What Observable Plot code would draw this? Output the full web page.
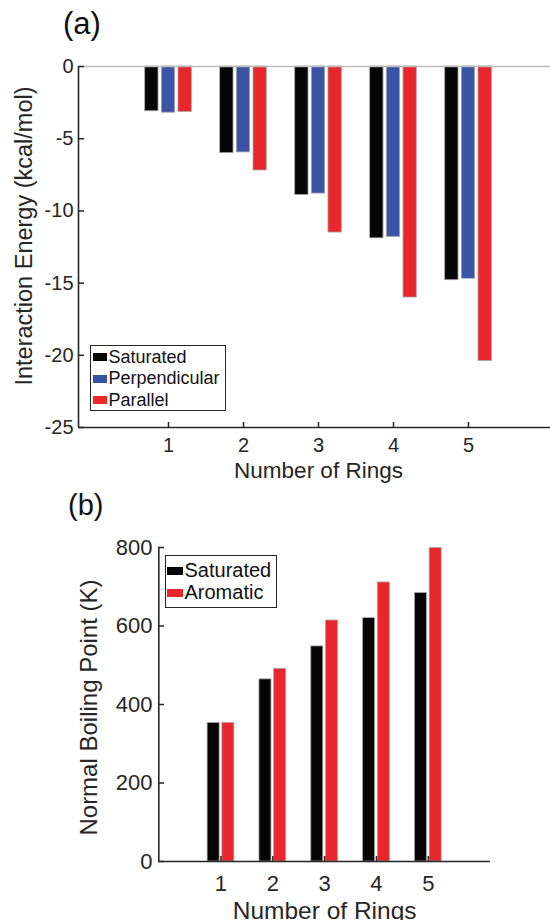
<!DOCTYPE html>
<html><head><meta charset="utf-8">
<script src="https://cdn.jsdelivr.net/npm/d3@7"></script>
<script src="https://cdn.jsdelivr.net/npm/@observablehq/plot@0.6"></script>
<style>
html,body{margin:0;padding:0;background:#fff;overflow:hidden;}
#wrap{position:relative;width:550px;height:920px;overflow:hidden;font-family:"Liberation Sans",Arial,Helvetica,sans-serif;color:#262626;}
.panel{position:absolute;left:0;}
.tag{position:absolute;line-height:1;color:#111;white-space:nowrap;}
.legend{position:absolute;border:1.5px solid #262626;background:#fff;box-sizing:border-box;color:#111;}
.legend .row{display:flex;align-items:center;white-space:nowrap;}
.legend .sw{display:inline-block;flex:none;}
</style></head><body><div id="wrap"></div>
<script>
// ---- data ----
const rings = [1, 2, 3, 4, 5];
const energySeries = ["Saturated", "Perpendicular", "Parallel"];
const energyColors = ["#050505", "#3a54a5", "#e8262b"];
const energySaturated = [-3.1, -6.0, -8.9, -11.9, -14.8];
const energyPerpendicular = [-3.2, -5.95, -8.8, -11.8, -14.7];
const energyParallel = [-3.15, -7.2, -11.5, -16.0, -20.4];
const energyTicks = [0, -5, -10, -15, -20, -25];

const bpSeries = ["Saturated", "Aromatic"];
const bpColors = ["#050505", "#e8262b"];
const bpSaturated = [353, 464, 548, 620, 684];
const bpAromatic = [353, 491, 614, 711, 799];
const bpTicks = [0, 200, 400, 600, 800];

const FONT = '"Liberation Sans", Arial, Helvetica, sans-serif';
const INK = "#262626";
const wrap = document.getElementById("wrap");

// ---- panel (a) ----
const energyRows = [];
[energySaturated, energyPerpendicular, energyParallel].forEach((vals, k) =>
  vals.forEach((v, i) => energyRows.push({ring: rings[i], series: energySeries[k], k, value: v})));
const offA = [-0.222, 0, 0.222], wA = 0.178;

const plotA = Plot.plot({
  width: 550, height: 490,
  marginLeft: 78, marginTop: 66, marginBottom: 63, marginRight: 0,
  x: {type: "linear", domain: [-0.2, 6.2], range: [78, 558]},
  y: {domain: [-25, 0], range: [427, 66]},
  color: {domain: energySeries, range: energyColors},
  style: {fontFamily: FONT, color: INK, background: "transparent"},
  marks: [
    Plot.rectY(energyRows, {
      x1: d => d.ring + offA[d.k] - wA / 2, x2: d => d.ring + offA[d.k] + wA / 2,
      y1: 0, y2: "value", fill: "series", stroke: "#a8a8a8", strokeWidth: 0.8
    }),
    Plot.ruleY([0], {x1: -0.2, x2: 6.2, stroke: "#bcbcbc", strokeWidth: 1.3}),
    Plot.ruleX([-0.2], {y1: -25, y2: 0, stroke: INK, strokeWidth: 1.6}),
    Plot.ruleY([-25], {x1: -0.2, x2: 6.2, stroke: INK, strokeWidth: 1.6}),
    Plot.axisY({ticks: energyTicks, tickSize: -6, tickPadding: 11, tickFormat: d => String(d),
      fontSize: 20, label: null, strokeWidth: 1.5}),
    Plot.axisX({ticks: rings, tickSize: -5, tickPadding: 15, tickFormat: d => String(d),
      fontSize: 20, label: null, strokeWidth: 1.5}),
    Plot.text(["Interaction Energy (kcal/mol)"], {frameAnchor: "left", textAnchor: "middle", lineAnchor: "middle",
      rotate: -90, dx: -54, dy: -11, fontSize: 23.5}),
    Plot.text(["Number of Rings"], {x: () => 3, frameAnchor: "bottom", textAnchor: "middle", lineAnchor: "top", dy: 35, fontSize: 22.5})
  ]
});
plotA.classList.add("panel");
plotA.style.top = "0px";
wrap.appendChild(plotA);

// ---- panel (b) ----
const bpRows = [];
[bpSaturated, bpAromatic].forEach((vals, k) =>
  vals.forEach((v, i) => bpRows.push({ring: rings[i], series: bpSeries[k], k, value: v})));
const offB = [-0.142, 0.142], wB = 0.232;

const plotB = Plot.plot({
  width: 550, height: 430,
  marginLeft: 158, marginTop: 57, marginBottom: 59, marginRight: 60,
  x: {type: "linear", domain: [-0.2, 6.2], range: [158.3, 490]},
  y: {domain: [0, 800], range: [371, 57]},
  color: {domain: bpSeries, range: bpColors},
  style: {fontFamily: FONT, color: INK, background: "transparent"},
  marks: [
    Plot.rectY(bpRows, {
      x1: d => d.ring + offB[d.k] - wB / 2, x2: d => d.ring + offB[d.k] + wB / 2,
      y1: 0, y2: "value", fill: "series", stroke: "#a8a8a8", strokeWidth: 0.8
    }),
    Plot.ruleX([-0.2], {y1: 0, y2: 800, stroke: INK, strokeWidth: 1.6}),
    Plot.ruleY([0], {x1: -0.2, x2: 6.2, stroke: INK, strokeWidth: 1.6}),
    Plot.axisY({ticks: bpTicks, tickSize: -6, tickPadding: 12, tickFormat: d => String(d),
      fontSize: 22, label: null, strokeWidth: 1.5}),
    Plot.axisX({ticks: rings, tickSize: -5, tickPadding: 19, tickFormat: d => String(d),
      fontSize: 22, label: null, strokeWidth: 1.5}),
    Plot.text(["Normal Boiling Point (K)"], {frameAnchor: "left", textAnchor: "middle", lineAnchor: "middle",
      rotate: -90, dx: -69, dy: 3, fontSize: 24}),
    Plot.text(["Number of Rings"], {x: () => 3, frameAnchor: "bottom", textAnchor: "middle", lineAnchor: "top", dy: 40, fontSize: 24.5})
  ]
});
plotB.classList.add("panel");
plotB.style.top = "490px";
wrap.appendChild(plotB);

// ---- panel tags ----
function tag(text, left, baseline, size) {
  const d = document.createElement("div");
  d.className = "tag";
  d.textContent = text;
  d.style.left = left + "px";
  d.style.fontSize = size + "px";
  d.style.top = (baseline - 0.8465 * size) + "px";
  wrap.appendChild(d);
}
tag("(a)", 63, 34, 31);
tag("(b)", 68, 516, 29);

// ---- legends ----
function legend(names, colors, box, opts) {
  const L = document.createElement("div");
  L.className = "legend";
  Object.assign(L.style, {left: box.left + "px", top: box.top + "px", width: box.width + "px",
    height: box.height + "px", paddingTop: opts.padTop + "px", fontSize: opts.font + "px"});
  names.forEach((n, i) => {
    const r = document.createElement("div");
    r.className = "row";
    r.style.height = opts.rowH + "px";
    const s = document.createElement("span");
    s.className = "sw";
    Object.assign(s.style, {width: opts.swW + "px", height: opts.swH + "px", background: colors[i],
      marginLeft: opts.swLeft + "px", marginRight: opts.gap + "px"});
    const t = document.createElement("span");
    t.textContent = n;
    r.appendChild(s); r.appendChild(t);
    L.appendChild(r);
  });
  wrap.appendChild(L);
}
legend(energySeries, energyColors, {left: 90, top: 345, width: 136, height: 66},
  {padTop: 0.5, font: 18, rowH: 21.5, swW: 14, swH: 8, swLeft: 1.5, gap: 2});
legend(bpSeries, bpColors, {left: 165, top: 555, width: 112, height: 53},
  {padTop: 3.5, font: 20, rowH: 22, swW: 16, swH: 8, swLeft: 0.5, gap: 2});
</script></body></html>
